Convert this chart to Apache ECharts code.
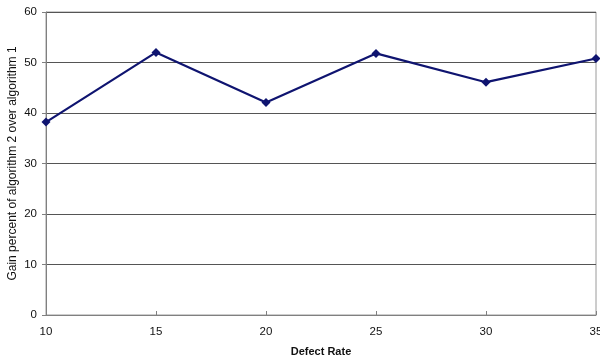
<!DOCTYPE html>
<html>
<head>
<meta charset="utf-8">
<script src="https://cdn.jsdelivr.net/npm/echarts@6/dist/echarts.min.js"></script>
<style>
  html, body { margin: 0; padding: 0; background: #fff; }
  #chart { width: 600px; height: 362px; }
</style>
</head>
<body>
<div id="chart"></div>
<script>
// Defect rates on the x axis and the measured gain at each rate
const defectRates = [10, 15, 20, 25, 30, 35];
const gainPercent = [38.2, 52.0, 42.1, 51.8, 46.1, 50.8];

const points = defectRates.map((r, i) => [r, gainPercent[i]]);

const chart = echarts.init(document.getElementById('chart'), null, { renderer: 'canvas' });
chart.setOption({
  animation: false,
  backgroundColor: '#ffffff',
  textStyle: { fontFamily: 'Liberation Sans, Arial, sans-serif' },
  grid: {
    left: 46, right: 4, top: 12, bottom: 47,
    containLabel: false, outerBoundsMode: 'none',
    show: true, borderColor: '#9a9a9a', borderWidth: 1
  },
  xAxis: {
    type: 'value',
    min: 10, max: 35, interval: 5,
    name: 'Defect Rate',
    nameLocation: 'middle',
    nameGap: 31,
    nameMoveOverlap: false,
    nameTextStyle: { fontSize: 11, fontWeight: 'bold', color: '#111' },
    axisLine: { show: true, lineStyle: { color: '#808080', width: 1 } },
    axisTick: { show: true, length: 4, inside: true, lineStyle: { color: '#808080' } },
    axisLabel: { fontSize: 11.5, color: '#111', margin: 11 },
    splitLine: { show: false }
  },
  yAxis: {
    type: 'value',
    min: 0, max: 60, interval: 10,
    name: 'Gain percent of algorithm 2 over algorithm 1',
    nameLocation: 'middle',
    nameGap: 27,
    nameMoveOverlap: false,
    nameTextStyle: { fontSize: 12, color: '#111' },
    axisLine: { show: true, lineStyle: { color: '#808080', width: 1 } },
    axisTick: { show: true, length: 4, lineStyle: { color: '#808080' } },
    axisLabel: { fontSize: 11.5, color: '#111', margin: 9 },
    splitLine: { show: true, lineStyle: { color: '#555', width: 1 } }
  },
  series: [{
    type: 'line',
    data: points,
    symbol: 'diamond',
    symbolSize: 9,
    itemStyle: { color: '#0f1470' },
    lineStyle: { color: '#0f1470', width: 2.2 }
  }]
});
</script>
</body>
</html>
